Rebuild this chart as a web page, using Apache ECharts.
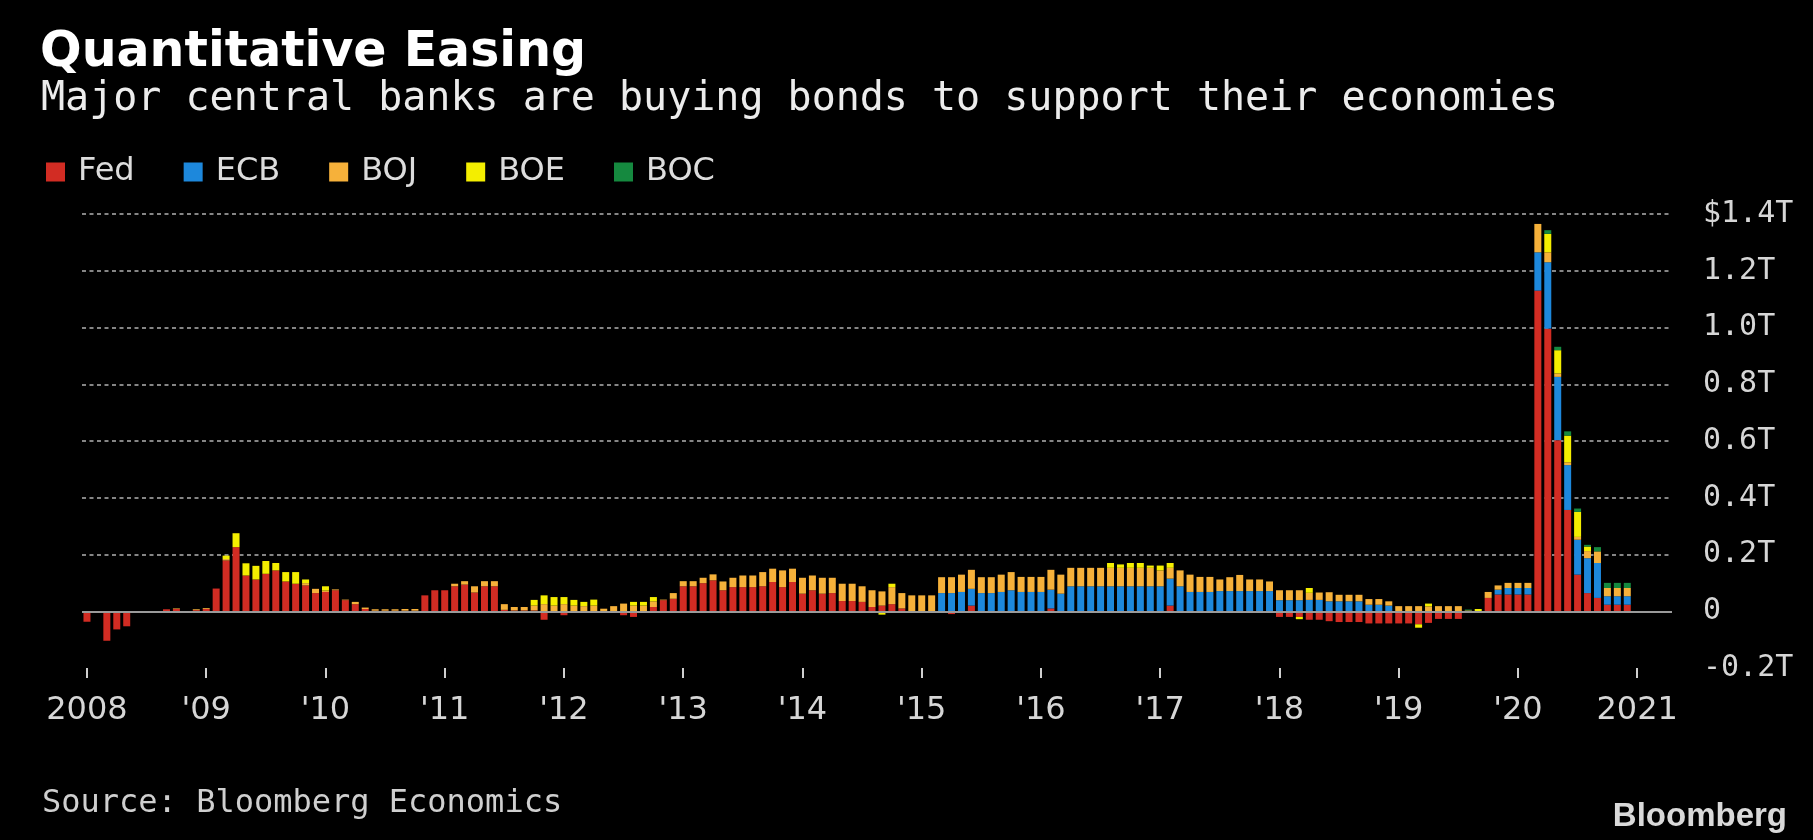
<!DOCTYPE html>
<html>
<head>
<meta charset="utf-8">
<title>Quantitative Easing</title>
<script src="https://cdn.jsdelivr.net/npm/echarts@6.0.0/dist/echarts.min.js"></script>
<style>
html, body { margin: 0; padding: 0; background: #000; }
#chart { width: 1813px; height: 840px; }
</style>
</head>
<body>
<div id="chart"></div>
<script>
// monthly purchases, $ trillions, Jan 2008 .. Dec 2020
var fed = [
    -0.037, 0, -0.104, -0.064, -0.053, -0.005, 0, 0, 0.007, 0.008, 0, 0.004,
    0.008, 0.08, 0.179, 0.226, 0.126, 0.112, 0.132, 0.144, 0.105, 0.097, 0.091, 0.064,
    0.068, 0.074, 0.039, 0.025, 0.008, 0.002, 0.002, 0.002, 0.002, 0.002, 0.056, 0.074,
    0.074, 0.088, 0.094, 0.066, 0.088, 0.088, 0.005, 0.003, 0.003, 0.003, -0.03, -0.005,
    -0.014, 0, 0, 0, 0, 0, -0.014, -0.02, 0, 0.015, 0.039, 0.044,
    0.088, 0.088, 0.099, 0.109, 0.074, 0.085, 0.085, 0.085, 0.088, 0.103, 0.085, 0.103,
    0.062, 0.074, 0.062, 0.064, 0.036, 0.036, 0.033, 0.015, 0.02, 0.025, 0.01, 0,
    0, 0, 0, -0.01, 0, 0.02, 0, 0, 0, 0, 0, 0,
    0, 0.01, 0, 0, 0, 0, 0, 0, 0, 0, 0, 0,
    0, 0.02, 0, 0, 0, 0, 0, 0, 0, 0, 0, 0,
    -0.02, -0.02, -0.02, -0.03, -0.03, -0.035, -0.038, -0.038, -0.038, -0.043, -0.043, -0.043,
    -0.043, -0.043, -0.046, -0.041, -0.027, -0.027, -0.027, 0, -0.003, 0.047, 0.059, 0.059,
    0.059, 0.059, 1.13, 0.996, 0.603, 0.357, 0.129, 0.064, 0.047, 0.023, 0.023, 0.023
];
var ecb = [
    0, 0, 0, 0, 0, 0, 0, 0, 0, 0, 0, 0,
    0, 0, 0, 0, 0, 0, 0, 0, 0, 0, 0, 0,
    0, 0, 0, 0, 0, 0, 0, 0, 0, 0, 0, 0,
    0, 0, 0, 0, 0, 0, 0, 0, 0, 0, 0, 0,
    0, 0, 0, 0, 0, 0, 0, 0, 0, 0, 0, 0,
    0, 0, 0, 0, 0, 0, 0, 0, 0, 0, 0, 0,
    0, 0, 0, 0, 0, 0, 0, 0, 0, 0, 0, 0,
    0, 0, 0.064, 0.064, 0.068, 0.059, 0.064, 0.064, 0.068, 0.074, 0.068, 0.068,
    0.068, 0.066, 0.062, 0.088, 0.088, 0.088, 0.088, 0.088, 0.088, 0.088, 0.088, 0.088,
    0.088, 0.095, 0.088, 0.068, 0.068, 0.068, 0.071, 0.071, 0.071, 0.071, 0.071, 0.071,
    0.039, 0.039, 0.039, 0.04, 0.04, 0.035, 0.035, 0.035, 0.035, 0.023, 0.023, 0.02,
    0, 0, 0, 0, 0, 0, 0, 0, 0, 0, 0.017, 0.023,
    0.023, 0.023, 0.135, 0.234, 0.223, 0.158, 0.123, 0.123, 0.123, 0.03, 0.03, 0.03
];
var boj = [
    0, 0, 0, 0, 0, 0, 0, 0, 0, 0.002, 0, 0.003,
    0.003, 0, 0.005, 0, 0, 0, 0, 0, 0, 0, 0.008, 0.015,
    0.005, 0.003, 0.002, 0.008, 0.005, 0.005, 0.005, 0.005, 0.006, 0.006, 0, 0,
    0, 0.009, 0.012, 0.022, 0.018, 0.018, 0.02, 0.012, 0.012, 0.017, 0.025, 0.02,
    0.025, 0.02, 0.018, 0.02, 0.009, 0.018, 0.027, 0.02, 0.02, 0.02, 0.002, 0.02,
    0.018, 0.018, 0.019, 0.021, 0.031, 0.033, 0.041, 0.041, 0.05, 0.047, 0.059, 0.047,
    0.056, 0.052, 0.056, 0.054, 0.061, 0.061, 0.055, 0.059, 0.05, 0.06, 0.054, 0.056,
    0.056, 0.056, 0.056, 0.056, 0.061, 0.067, 0.056, 0.056, 0.061, 0.064, 0.053, 0.053,
    0.053, 0.07, 0.067, 0.065, 0.065, 0.065, 0.065, 0.065, 0.065, 0.065, 0.065, 0.065,
    0.056, 0.038, 0.056, 0.061, 0.053, 0.053, 0.041, 0.049, 0.057, 0.041, 0.041, 0.034,
    0.035, 0.035, 0.035, 0.025, 0.026, 0.032, 0.023, 0.023, 0.023, 0.02, 0.02, 0.015,
    0.018, 0.018, 0.018, 0.017, 0.018, 0.018, 0.018, 0.003, 0, 0.021, 0.015, 0.018,
    0.018, 0.018, 0.1, 0.035, 0.012, 0.01, 0.01, 0.025, 0.041, 0.029, 0.029, 0.029
];
var boe = [
    0, 0, 0, 0, 0, 0, 0, 0, 0, 0, 0, 0,
    0, 0, 0.012, 0.049, 0.043, 0.048, 0.045, 0.026, 0.033, 0.041, 0.013, 0,
    0.015, 0, 0, 0, 0, 0, 0, 0, 0, 0, 0, 0,
    0, 0, 0, 0, 0, 0, 0, 0, 0, 0.02, 0.031, 0.03,
    0.025, 0.02, 0.015, 0.021, 0, 0, 0, 0.013, 0.013, 0.015, 0, 0,
    0, 0, 0, 0, 0, 0, 0, 0, 0, 0, 0, 0,
    0, 0, 0, 0, 0, 0, 0, 0, -0.012, 0.012, 0, 0,
    0, 0, 0, 0, 0, 0, 0, 0, -0.005, 0, 0, 0,
    0, 0, 0, 0, 0, 0, 0, 0.017, 0.012, 0.017, 0.017, 0.008,
    0.017, 0.017, -0.005, 0, 0, 0, 0, -0.004, 0, 0, 0, 0,
    0, 0, -0.008, 0.017, 0, 0, 0, 0, 0, 0, 0, 0,
    0, 0, -0.012, 0.01, 0, 0, 0, 0, 0.008, 0, 0, 0,
    0, 0, 0, 0.065, 0.082, 0.094, 0.088, 0.016, 0, 0, 0, 0
];
var boc = [
    0, 0, 0, 0, 0, 0, 0, 0, 0, 0, 0, 0,
    0, 0, 0, 0, 0, 0, 0, 0, 0, 0, 0, 0,
    0, 0, 0, 0, 0, 0, 0, 0, 0, 0, 0, 0,
    0, 0, 0, 0, 0, 0, 0, 0, 0, 0, 0, 0,
    0, 0, 0, 0, 0, 0, 0, 0, 0, 0, 0, 0,
    0, 0, 0, 0, 0, 0, 0, 0, 0, 0, 0, 0,
    0, 0, 0, 0, 0, 0, 0, 0, 0, 0, 0, 0,
    0, 0, 0, 0, 0, 0, 0, 0, 0, 0, 0, 0,
    0, 0, 0, 0, 0, 0, 0, 0, 0, 0, 0, 0,
    0, 0, 0, 0, 0, 0, 0, 0, 0, 0, 0, 0,
    0, 0, 0, 0, 0, 0, 0, 0, 0, 0, 0, 0,
    0, 0, 0, 0, 0, 0, 0, 0.003, 0, 0, 0, 0,
    0, 0, 0, 0.013, 0.012, 0.015, 0.012, 0.006, 0.015, 0.018, 0.018, 0.018
];

var yearLabels = ['2008', "'09", "'10", "'11", "'12", "'13", "'14", "'15", "'16", "'17", "'18", "'19", "'20", '2021'];
var yLabels = ['-0.2T', '0', '0.2T', '0.4T', '0.6T', '0.8T', '1.0T', '1.2T', '$1.4T'];
var seriesNames = ['Fed', 'ECB', 'BOJ', 'BOE', 'BOC'];
var seriesColors = ['#d22c23', '#1d88dc', '#f6b13a', '#f4ee00', '#15893f'];

// month categories, Jan 2008 .. Apr 2021 (a few empty months on the right)
var months = [];
for (var y = 2008; y <= 2021; y++) {
    for (var m = 1; m <= 12; m++) {
        if (y == 2021 && m > 4) break;
        months.push(y + '-' + (m < 10 ? '0' + m : m));
    }
}

var mono = '"DejaVu Sans Mono", monospace';
var sans = '"DejaVu Sans", sans-serif';
var myChart = echarts.init(document.getElementById('chart'));

var allData = [fed, ecb, boj, boe, boc];
var series = [];
for (var i = 0; i < seriesNames.length; i++) {
    series.push({
        name: seriesNames[i],
        type: 'bar',
        stack: 'total',
        barWidth: 7,
        itemStyle: { color: seriesColors[i] },
        data: allData[i]
    });
}
// solid zero line
series[0].markLine = {
    silent: true,
    symbol: 'none',
    label: { show: false },
    lineStyle: { color: '#9a9a9a', type: 'solid', width: 2 },
    data: [{ yAxis: 0 }]
};

var option = {
    backgroundColor: '#000',
    animation: false,
    graphic: [
        { type: 'text', x: 40, y: 53, style: { text: 'Quantitative Easing', fill: '#fff', font: 'bold 49px ' + sans, verticalAlign: 'middle' } },
        { type: 'text', x: 41, y: 100, style: { text: 'Major central banks are buying bonds to support their economies', fill: '#ececec', font: '40px ' + mono, verticalAlign: 'middle' } },
        { type: 'text', x: 42, y: 804, style: { text: 'Source: Bloomberg Economics', fill: '#cfcfcf', font: '32px ' + mono, verticalAlign: 'middle' } },
        { type: 'text', x: 1787, y: 817, style: { text: 'Bloomberg', fill: '#d9d9d9', font: 'bold 33px "Liberation Sans"', align: 'right', verticalAlign: 'middle' } }
    ],
    legend: {
        data: seriesNames,
        left: 46,
        top: 156,
        padding: 0,
        icon: 'rect',
        itemWidth: 19,
        itemHeight: 19,
        itemGap: 49,
        selectedMode: false,
        textStyle: { color: '#dcdcdc', fontSize: 32, fontFamily: sans, padding: [0, 0, 0, 8] }
    },
    grid: {
        left: 82,
        right: 141,
        top: 214,
        bottom: 172,
        outerBoundsMode: 'none'
    },
    xAxis: {
        type: 'category',
        data: months,
        axisLine: { show: false, onZero: false },
        axisTick: {
            show: true,
            interval: 11,
            alignWithLabel: true,
            length: 10,
            lineStyle: { color: '#cfcfcf', width: 2 }
        },
        axisLabel: {
            interval: 11,
            margin: 27,
            color: '#d6d6d6',
            fontSize: 32,
            fontFamily: sans,
            formatter: function (value, index) {
                return yearLabels[Math.round(index / 12)];
            }
        },
        splitLine: { show: false }
    },
    yAxis: {
        type: 'value',
        position: 'right',
        min: -0.2,
        max: 1.4,
        interval: 0.2,
        axisLine: { show: false },
        axisTick: { show: false },
        axisLabel: {
            margin: 31,
            align: 'left',
            color: '#d6d6d6',
            fontSize: 30,
            fontFamily: mono,
            formatter: function (v) {
                return yLabels[Math.round((v + 0.2) / 0.2)];
            }
        },
        splitLine: {
            show: true,
            lineStyle: {
                color: ['transparent', 'transparent', '#858585', '#858585', '#858585', '#858585', '#858585', '#858585', '#858585'],
                type: [4, 3.5],
                width: 2
            }
        }
    },
    series: series
};

myChart.setOption(option);
</script>
</body>
</html>
